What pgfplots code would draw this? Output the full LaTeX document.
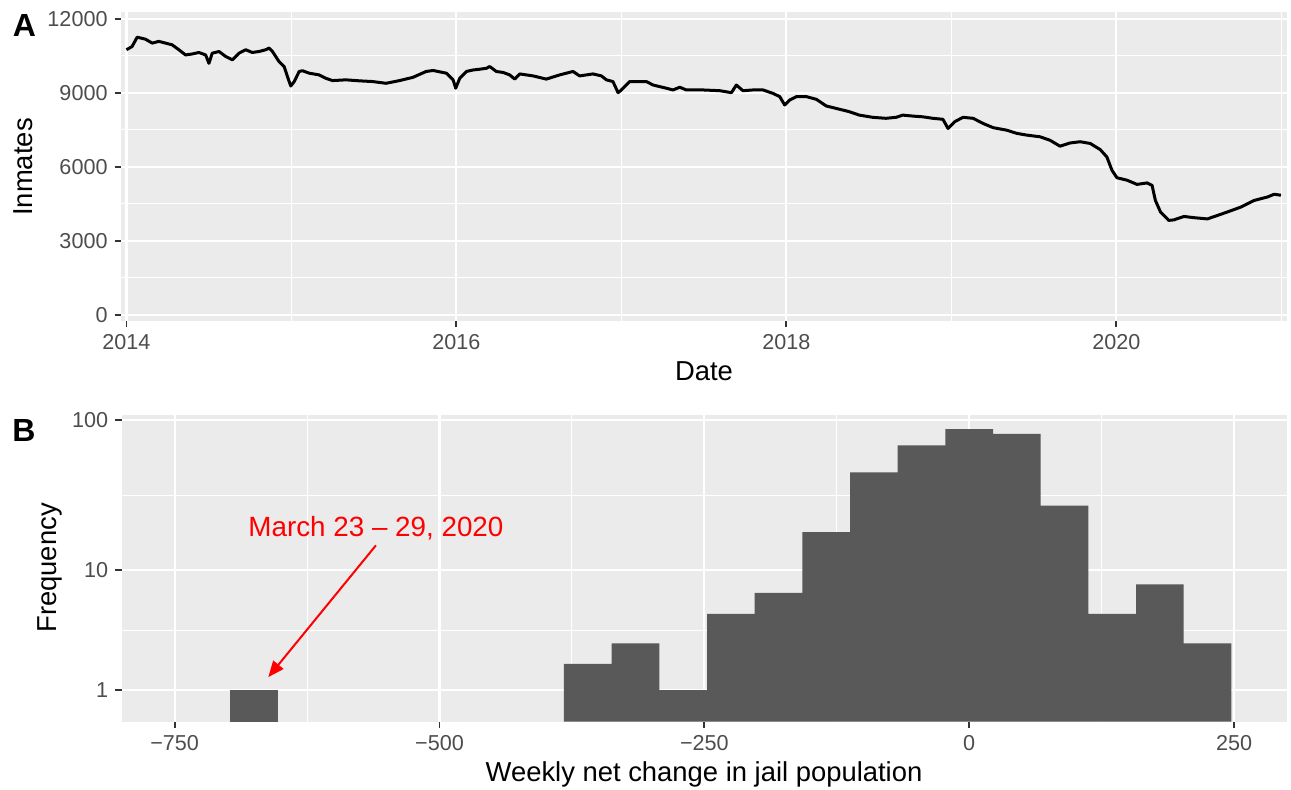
\documentclass[border=0pt]{standalone}
\usepackage{pgfplots}
\pgfplotsset{compat=1.18}
\usepackage{pgfplotstable}
\usepackage{fontspec}
\setmainfont{Liberation Sans}
\usetikzlibrary{arrows.meta}
\definecolor{panelbg}{HTML}{EBEBEB}
\definecolor{ticklab}{HTML}{4D4D4D}
\definecolor{tickcol}{HTML}{333333}
\definecolor{barfill}{HTML}{595959}

\pgfplotstableread{
year inmates
2014.000 10750
2014.034 10880
2014.065 11260
2014.115 11180
2014.156 11020
2014.196 11090
2014.237 11020
2014.277 10950
2014.318 10750
2014.358 10540
2014.399 10580
2014.439 10640
2014.480 10540
2014.500 10200
2014.520 10610
2014.561 10680
2014.601 10480
2014.642 10340
2014.682 10610
2014.723 10750
2014.763 10640
2014.804 10680
2014.844 10750
2014.865 10820
2014.885 10680
2014.925 10270
2014.956 10070
2014.976 9660
2014.996 9280
2015.017 9460
2015.047 9870
2015.067 9900
2015.108 9800
2015.168 9730
2015.209 9590
2015.249 9500
2015.331 9530
2015.412 9490
2015.493 9460
2015.574 9390
2015.655 9500
2015.736 9630
2015.817 9870
2015.859 9910
2015.939 9800
2015.980 9530
2015.996 9190
2016.020 9590
2016.061 9870
2016.101 9930
2016.141 9960
2016.182 10000
2016.202 10070
2016.242 9870
2016.283 9830
2016.323 9730
2016.354 9560
2016.384 9770
2016.465 9690
2016.545 9560
2016.626 9730
2016.707 9870
2016.747 9690
2016.828 9770
2016.879 9690
2016.909 9530
2016.949 9460
2016.980 9010
2017.000 9120
2017.051 9460
2017.111 9460
2017.152 9460
2017.192 9320
2017.273 9190
2017.313 9120
2017.354 9230
2017.394 9120
2017.495 9120
2017.596 9090
2017.667 9010
2017.697 9320
2017.737 9090
2017.798 9120
2017.859 9120
2017.919 8980
2017.960 8850
2017.990 8510
2018.020 8710
2018.061 8850
2018.121 8850
2018.182 8740
2018.242 8470
2018.303 8370
2018.381 8240
2018.442 8100
2018.523 8010
2018.604 7970
2018.665 8010
2018.706 8100
2018.767 8060
2018.828 8030
2018.888 7970
2018.949 7930
2018.980 7560
2019.020 7830
2019.071 8010
2019.132 7970
2019.193 7760
2019.254 7590
2019.335 7490
2019.396 7360
2019.456 7290
2019.538 7220
2019.598 7080
2019.659 6840
2019.720 6970
2019.781 7020
2019.842 6950
2019.903 6700
2019.943 6400
2019.974 5860
2020.004 5560
2020.065 5460
2020.126 5290
2020.187 5350
2020.217 5250
2020.237 4640
2020.268 4170
2020.318 3830
2020.349 3850
2020.410 3990
2020.471 3940
2020.552 3890
2020.613 4030
2020.673 4170
2020.755 4370
2020.836 4640
2020.917 4780
2020.957 4890
2020.998 4850
}\inmatestable

% histogram: left bin edge, count (last row = right edge)
\pgfplotstableread{
edge count
-697.5 1
-652.5 0
}\histlow
\pgfplotstableread{
edge count
-382.5 2
-337.5 3
-292.5 1
-247.5 5
-202.5 7
-157.5 18
-112.5 45
-67.5 68
-22.5 87
22.5 81
67.5 27
112.5 5
157.5 8
202.5 3
247.5 0
}\histmain

\pgfplotsset{ggstyle/.style={
  scale only axis,
  axis background/.style={fill=panelbg},
  axis line style={draw=none},
  tick align=outside,
  major tick length=3.2pt,
  minor tick length=0pt,
  xtick pos=bottom, ytick pos=left,
  every tick/.style={tickcol, line width=0.9pt},
  grid=both,
  major grid style={white, line width=1.1pt},
  minor grid style={white, line width=0.55pt},
  ticklabel style={font=\fontsize{10.8}{12}\selectfont, text=ticklab},
  /pgf/number format/assume math mode=true,
  scaled x ticks=false, scaled y ticks=false,
  clip=true,
}}

\begin{document}
\begin{tikzpicture}
\useasboundingbox (0,0) rectangle (645.5pt,395pt);

% Panel A
\begin{axis}[ggstyle,
  at={(60.5pt,234.5pt)}, anchor=south west,
  width=582.85pt, height=154.35pt,
  xmin=2013.967, xmax=2021.033, ymin=-250, ymax=12270,
  xtick={2014,2016,2018,2020}, xticklabels={2014,2016,2018,2020},
  minor xtick={2015,2017,2019,2021},
  ytick={0,3000,6000,9000,12000}, yticklabels={0,3000,6000,9000,12000},
  minor ytick={1500,4500,7500,10500},
]
\addplot[black, line width=1.5pt, line join=round] table[x=year, y=inmates] {\inmatestable};
\end{axis}

% Panel B
\begin{axis}[ggstyle,
  at={(60.85pt,34.15pt)}, anchor=south west,
  width=582.65pt, height=153.35pt,
  xmin=-800, xmax=300, ymin=0, ymax=108,
  y coord trafo/.code={\pgfmathparse{ln(#1/2+sqrt((#1/2)^2+1))}},
  y coord inv trafo/.code={\pgfmathparse{2*sinh(#1)}},
  xtick={-750,-500,-250,0,250}, xticklabels={−750,−500,−250,0,250},
  minor xtick={-625,-375,-125,125},
  ytick={1,10,100}, yticklabels={1,10,100},
  minor ytick={3.79,31.76},
]
\addplot[ybar interval, fill=barfill, draw=none] table[x=edge, y=count] {\histlow};
\addplot[ybar interval, fill=barfill, draw=none] table[x=edge, y=count] {\histmain};
\draw[red, line width=1pt, -{Triangle[length=8pt, width=6.5pt]}] (axis cs:-560,14.7) -- (axis cs:-661.6,1.47);
\node[red, anchor=base, font=\fontsize{13.9}{15}\selectfont, inner sep=0pt] at (axis cs:-560,16.9) {March 23 – 29, 2020};
\end{axis}

% Titles and panel letters
\node[font=\fontsize{13.7}{15}\selectfont, rotate=90] at (11.5pt,311.5pt) {Inmates};
\node[font=\fontsize{13.7}{15}\selectfont, anchor=base, inner sep=0pt] at (352pt,204.5pt) {Date};
\node[font=\fontsize{13.7}{15}\selectfont, rotate=90] at (25pt,111pt) {Frequency};
\node[font=\fontsize{13.7}{15}\selectfont, anchor=base, inner sep=0pt] at (352pt,4pt) {Weekly net change in jail population};
\node[font=\bfseries\fontsize{16}{18}\selectfont] at (12.2pt,382pt) {A};
\node[font=\bfseries\fontsize{16}{18}\selectfont] at (12pt,179.5pt) {B};
\end{tikzpicture}
\end{document}
